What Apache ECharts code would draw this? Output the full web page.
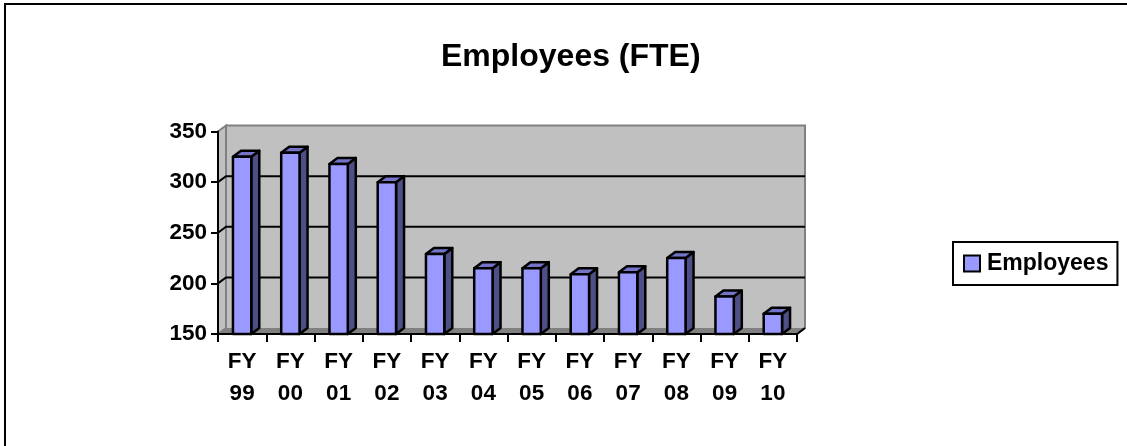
<!DOCTYPE html>
<html><head><meta charset="utf-8">
<style>html,body{margin:0;padding:0;background:#fff}#c{width:1127px;height:446px}</style>
<script src="https://cdn.jsdelivr.net/npm/echarts@6/dist/echarts.min.js"></script>
</head><body><div id="c"></div>
<script>
const categories = ['FY\n99','FY\n00','FY\n01','FY\n02','FY\n03','FY\n04','FY\n05','FY\n06','FY\n07','FY\n08','FY\n09','FY\n10'];
const employees = [325,329,318,300,229,215,215,209,211,225,187,170];
const gridValues = [150,200,250,300,350];
const seriesName = 'Employees';
const titleText = 'Employees (FTE)';

const DX = 8, DY = -6;
const chart = echarts.init(document.getElementById('c'), null, {renderer:'canvas'});
const black = {stroke:'#000', lineWidth:2, fill:null};

function renderWall(params, api){
  const v = api.value(0);
  const cs = params.coordSys;
  const x0 = cs.x, x1 = cs.x + cs.width;
  const y = api.coord([0, v])[1];
  const kids = [];
  if (v === gridValues[0]) {
    const top = api.coord([0, gridValues[gridValues.length-1]])[1];
    kids.push({type:'polygon', shape:{points:[[x0,y],[x0,top],[x0+DX,top+DY],[x1+DX,top+DY],[x1+DX,y+DY],[x0+DX,y+DY]]},
      style:{fill:'#c0c0c0', stroke:null}});
    kids.push({type:'polygon', shape:{points:[[x0,y],[x0+DX,y+DY],[x1+DX,y+DY],[x1,y]]},
      style:{fill:'#808080', stroke:null}});
    kids.push({type:'polyline', shape:{points:[[x0,top],[x0+DX,top+DY],[x0+DX,y+DY],[x0,y]]},
      style:{stroke:'#808080', lineWidth:2, fill:null}});
    kids.push({type:'polyline', shape:{points:[[x0+DX,top+DY],[x1+DX,top+DY],[x1+DX,y+DY],[x1,y]]},
      style:{stroke:'#808080', lineWidth:2, fill:null}});
    kids.push({type:'polyline', shape:{points:[[x1+DX,y+DY],[x1,y]]}, style:black});
  } else if (v !== gridValues[gridValues.length-1]) {
    kids.push({type:'polyline', shape:{points:[[x0,y],[x0+DX,y+DY],[x1+DX,y+DY]]}, style:black});
  }
  return {type:'group', children:kids, silent:true};
}

function renderBar(params, api){
  const i = api.value(0);
  const top = api.coord([i, api.value(1)]);
  const base = api.coord([i, gridValues[0]]);
  const w = api.size([1,0])[0] * 0.38;
  const l = top[0] - w/2, r = top[0] + w/2, t = top[1], b = base[1];
  const edge = {stroke:'#000', lineWidth:2.5, lineJoin:'round'};
  return {type:'group', children:[
    {type:'polygon', shape:{points:[[r,t],[r+DX,t+DY],[r+DX,b+DY],[r,b]]}, style:{fill:'#4f4f88', ...edge}},
    {type:'polygon', shape:{points:[[l,t],[l+DX,t+DY],[r+DX,t+DY],[r,t]]}, style:{fill:'#7373c8', ...edge}},
    {type:'rect', shape:{x:l,y:t,width:r-l,height:b-t}, style:{fill:'#9999ff', ...edge}}
  ]};
}

const labelFont = {fontFamily:'"Liberation Sans",Arial,sans-serif', fontWeight:'bold', color:'#000'};
chart.setOption({
  animation:false,
  backgroundColor:'#fff',
  title:{text:titleText, left:436, top:36,
    textStyle:{...labelFont, fontSize:32}},
  legend:{left:953, top:242, orient:'horizontal', data:[{name:seriesName, icon:'rect',
      itemStyle:{color:'#9999ff', borderColor:'#000', borderWidth:2}}],
    backgroundColor:'#fff', borderColor:'#000', borderWidth:2,
    padding:[10,9,10,10], itemWidth:16, itemHeight:16, itemGap:0,
    textStyle:{...labelFont, fontSize:23, padding:[0,0,0,2]}},
  grid:{left:218, top:131.5, width:579, height:202.5, containLabel:false},
  xAxis:{type:'category', data:categories, z:5, boundaryGap:true,
    axisLine:{lineStyle:{color:'#000',width:2}},
    axisTick:{show:true, alignWithLabel:false, length:8, inside:false, lineStyle:{color:'#000',width:2}},
    axisLabel:{...labelFont, fontSize:22.5, lineHeight:32, margin:12, interval:0},
    splitLine:{show:false}},
  yAxis:{type:'value', min:150, max:350, interval:50, z:5,
    axisLine:{show:true, lineStyle:{color:'#000',width:2}},
    axisTick:{show:true, length:7, lineStyle:{color:'#000',width:2}},
    axisLabel:{...labelFont, fontSize:22.5, margin:11},
    splitLine:{show:false}},
  graphic:[{type:'polyline', silent:true, shape:{points:[[5,446],[5,4],[1127,4]]},
    style:{stroke:'#000', lineWidth:2, fill:null}}],
  series:[
    {type:'custom', name:'wall', data:gridValues.map(v=>[v]), renderItem:renderWall, silent:true,
      encode:{y:0}, z:1, legendHoverLink:false},
    {type:'custom', name:seriesName, data:employees.map((v,i)=>[i,v]), renderItem:renderBar,
      encode:{x:0,y:1}, z:2, itemStyle:{color:'#9999ff'}}
  ]
});
</script></body></html>
